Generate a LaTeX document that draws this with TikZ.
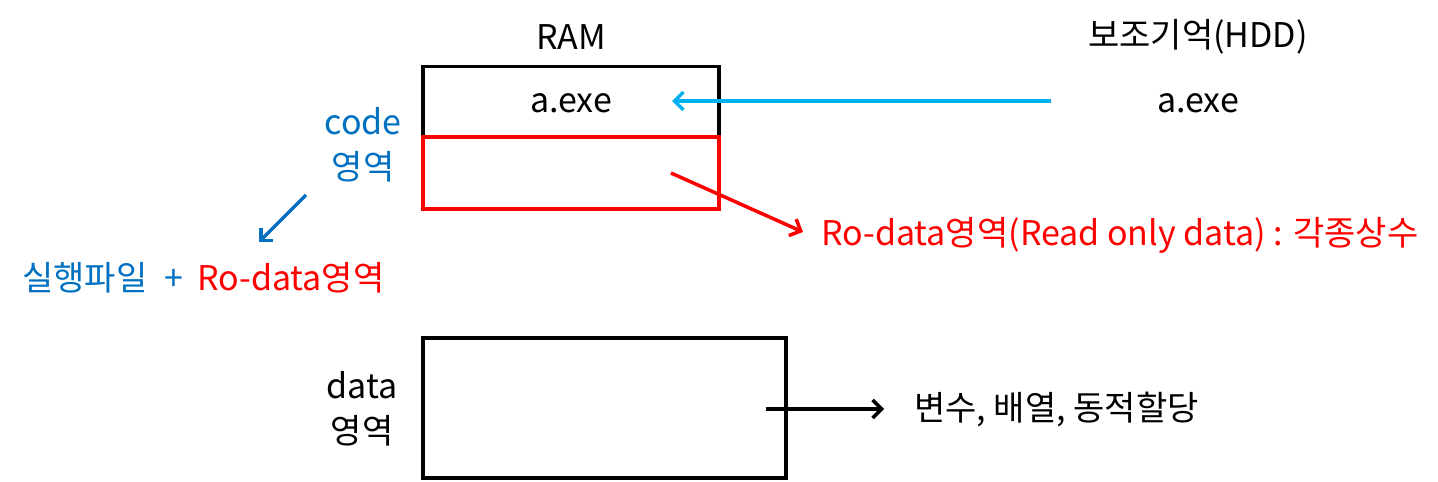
\documentclass[tikz,border=0pt]{standalone}
\usepackage{fontspec}
\setmainfont{Noto Sans CJK KR}
\usetikzlibrary{arrows.meta}
\definecolor{cblue}{RGB}{0,112,192}
\definecolor{ccyan}{RGB}{0,176,240}
\definecolor{cred}{RGB}{255,0,0}
\begin{document}
\begin{tikzpicture}[x=1pt,y=-1pt,
  txt/.style={inner sep=0pt,font=\fontsize{34}{40}\selectfont},
  box/.style={line width=3.5pt},
  arr/.style={line width=3.5pt,-{Straight Barb[length=9pt,width=18pt,line width=3.5pt]}}]
\useasboundingbox (0,0) rectangle (1438,482);
% RAM boxes
\node[draw,box,minimum width=296pt,minimum height=71pt,inner sep=0pt] (code) at (571,102) {};
\node[draw=cred,box,minimum width=296pt,minimum height=72pt,inner sep=0pt] (ro) at (571,173) {};
\node[draw,box,minimum width=363pt,minimum height=140pt,inner sep=0pt] (data) at (604.5,408) {};
% texts
\node[txt] (ram) at (571,37) {RAM};
\node[txt] (hdd) at (1198,37) {보조기억(HDD)};
\node[txt] (aexe) at (571,103) {a.exe};
\node[txt] (hexe) at (1198,103) {a.exe};
\node[txt,text=cblue] (codet) at (363,121) {code};
\node[txt,text=cblue] (codey) at (363,167) {영역};
\node[txt,text=cblue,anchor=west] (exec) at (22,278) {실행파일\hspace{17pt}+\hspace{14pt}\textcolor{cred}{Ro-data영역}};
\node[txt,text=cred,anchor=west] (rot) at (821,235) {Ro-data영역(Read only data) : 각종상수};
\node[txt] (datat) at (362,385) {data};
\node[txt] (datay) at (362,431) {영역};
\node[txt,anchor=west] (vars) at (914,410) {변수, 배열, 동적할당};
% arrows
\coordinate (c1) at (1051,101);
\coordinate (c2) at (672,101);
\draw[arr,ccyan] (c1) -- (c2);
\coordinate (r1) at (671,173);
\coordinate (r2) at (803,232);
\draw[arr,cred] (r1) -- (r2);
\coordinate (b1) at (306,195);
\coordinate (b2) at (259,242);
\draw[arr,cblue] (b1) -- (b2);
\coordinate (k1) at (766,409);
\coordinate (k2) at (884,409);
\draw[arr,black] (k1) -- (k2);
\end{tikzpicture}
\end{document}
